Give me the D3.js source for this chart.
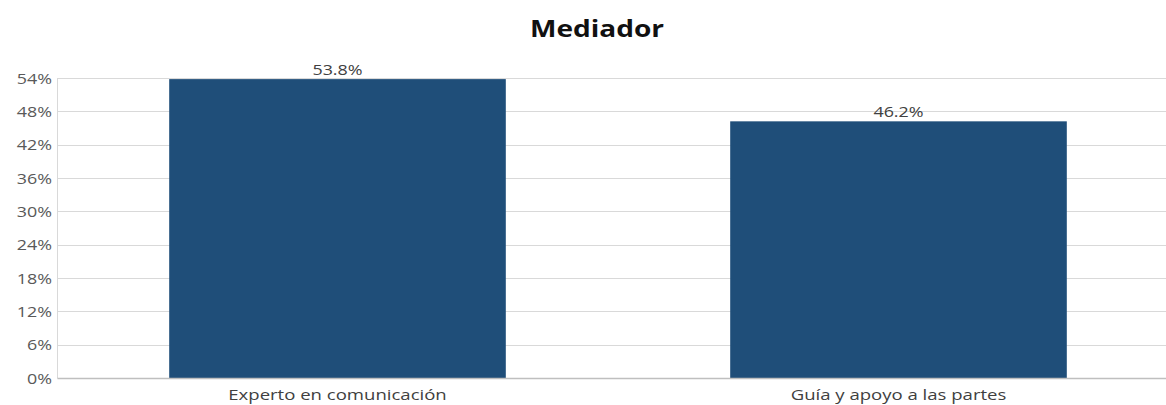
<!DOCTYPE html>
<html>
<head>
<meta charset="utf-8">
<script src="https://cdn.jsdelivr.net/npm/d3@7"></script>
<style>
  html, body { margin: 0; padding: 0; background: #fff; }
  svg { display: block; }
</style>
</head>
<body>
<svg id="chart" width="1166" height="405"></svg>
<script>
// Chart data
const categories = ["Experto en comunicación", "Guía y apoyo a las partes"];
const values = [53.8, 46.2];
const yTicks = [0, 6, 12, 18, 24, 30, 36, 42, 48, 54];
const title = "Mediador";

const svg = d3.select("#chart");
const margin = { left: 57, right: -13, top: 78, bottom: 27 };
const width = 1166, height = 405;
const stretch = 1.28; // wide lettering
const FONT = "'Open Sans', 'Noto Sans', sans-serif";

const x = d3.scaleBand()
  .domain(categories)
  .range([margin.left, width - margin.right])
  .paddingInner(0.4)
  .paddingOuter(0.2);

const y = d3.scaleLinear()
  .domain([0, 54])
  .range([height - margin.bottom, margin.top]);

// Places a horizontally widened text at (px, py)
function wideText(sel, px, py, opts) {
  return sel.append("text")
    .attr("transform", `translate(${px},${py}) scale(${opts.sx || stretch},1)`)
    .attr("text-anchor", opts.anchor || "middle")
    .attr("font-family", FONT)
    .attr("font-size", opts.size)
    .attr("font-weight", opts.weight || "normal")
    .attr("fill", opts.fill)
    .text(opts.text);
}

// Title
wideText(svg, 597, 37, { size: 23, weight: "bold", fill: "#111", text: title, sx: 1.22 });

// Horizontal gridlines
svg.append("g")
  .selectAll("line")
  .data(yTicks.filter(t => t > 0))
  .join("line")
  .attr("x1", margin.left)
  .attr("x2", width)
  .attr("y1", d => Math.round(y(d)) + 0.5)
  .attr("y2", d => Math.round(y(d)) + 0.5)
  .attr("stroke", "#d9d9d9")
  .attr("stroke-width", 1);

// Y axis
const yAxis = svg.append("g")
  .attr("transform", `translate(${margin.left},0)`)
  .call(d3.axisLeft(y).tickValues(yTicks).tickFormat(d => d + "%").tickSize(0));
yAxis.select(".domain").attr("stroke", "#d9d9d9");
yAxis.selectAll(".tick text").remove();
yAxis.selectAll(".tick").each(function(d) {
  wideText(d3.select(this), -5, 5, { size: 14, fill: "#595959", text: d + "%", anchor: "end" });
});

// Bars
svg.append("g")
  .selectAll("rect")
  .data(values)
  .join("rect")
  .attr("x", (d, i) => x(categories[i]))
  .attr("y", d => y(d))
  .attr("width", x.bandwidth())
  .attr("height", d => y(0) - y(d))
  .attr("fill", "#1f4e79");

// Value labels
const labels = svg.append("g");
values.forEach((v, i) => {
  wideText(labels, x(categories[i]) + x.bandwidth() / 2, y(v) - 4,
    { size: 14, fill: "#404040", text: v.toFixed(1) + "%" });
});

// X axis
const xAxis = svg.append("g")
  .attr("transform", `translate(0,${y(0)})`)
  .call(d3.axisBottom(x).tickSize(0));
xAxis.select(".domain").attr("stroke", "#bfbfbf").attr("stroke-width", 1.5);
xAxis.selectAll(".tick text").remove();
xAxis.selectAll(".tick").each(function(d) {
  wideText(d3.select(this), 0, 22, { size: 14.5, fill: "#404040", text: d });
});
</script>
</body>
</html>
